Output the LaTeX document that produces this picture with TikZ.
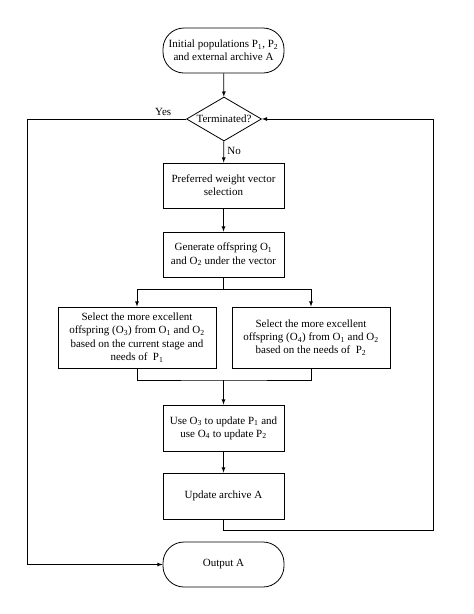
\documentclass[tikz,border=0pt]{standalone}
\usepackage{fontspec}
\setmainfont{Liberation Serif}
\usepackage{tikz}
\usetikzlibrary{shapes, calc, arrows}

\tikzset{
	procbox/.style={draw, rectangle, minimum width=121pt, minimum height=45pt, inner sep=0pt, align=center},
	widebox/.style={draw, rectangle, minimum width=158pt, minimum height=61pt, inner sep=0pt, align=center},
	termbox/.style={draw, rectangle, rounded corners=21pt, minimum width=121pt, minimum height=45pt, inner sep=0pt, align=center},
	decbox/.style={draw, diamond, aspect=1.7, minimum width=75pt, minimum height=44pt, inner sep=0pt},
}

\begin{document}
\begin{tikzpicture}[x=1pt, y=-1pt, line width=0.8pt, >=latex, font=\fontsize{11}{13.3}\selectfont]

	\useasboundingbox (0,0) rectangle (474,614);

	% main column
	\node[termbox] (start) at (223.5,50.5) {Initial populations P\textsubscript{1}, P\textsubscript{2}\\and external archive A};
	\node[decbox] (dec) at (224,119) {Terminated?};
	\node[procbox] (pref) at (223.5,185.5) {Preferred weight vector\\selection};
	\node[procbox] (gen) at (223.5,254.5) {Generate offspring O\textsubscript{1}\\and O\textsubscript{2} under the vector};
	
	% two branches
	\node[widebox] (lsel) at (137,337.5) {Select the more excellent\\offspring (O\textsubscript{3}) from O\textsubscript{1} and O\textsubscript{2}\\based on the current stage and\\needs of ~P\textsubscript{1}};
	\node[widebox] (rsel) at (311,337.5) {Select the more excellent\\offspring (O\textsubscript{4}) from O\textsubscript{1} and O\textsubscript{2}\\based on the needs of ~P\textsubscript{2}};
	
	\node[procbox, minimum height=46pt] (upd) at (223.5,428) {Use O\textsubscript{3} to update P\textsubscript{1} and\\use O\textsubscript{4} to update P\textsubscript{2}};
	\node[procbox, minimum height=46pt] (arc) at (223.5,496) {Update archive A};
	\node[termbox] (out) at (223.5,564.5) {Output A};
	
	% turning points
	\coordinate (split) at (223.5,289);
	\coordinate (merge) at (223.5,380);
	\coordinate (loopR) at (433,530);
	\coordinate (loopL) at (27,564.5);
	
	\draw[->] (start) -- (dec);
	\draw[->] (dec) -- node[right, pos=0.45] {No} (pref);
	\draw[->] (pref) -- (gen);
	\draw (gen) -- (split);
	\draw[->] (split) -| (lsel);
	\draw[->] (split) -| (rsel);
	\draw (lsel) |- (merge) -| (rsel);
	\draw[->] (merge) -- (upd);
	\draw[->] (upd) -- (arc);
	\draw[->] (arc) |- (loopR) |- (dec);
	\draw[->] (dec) -| node[above, pos=0.072] {Yes} (loopL) -- (out);
\end{tikzpicture}
\end{document}
